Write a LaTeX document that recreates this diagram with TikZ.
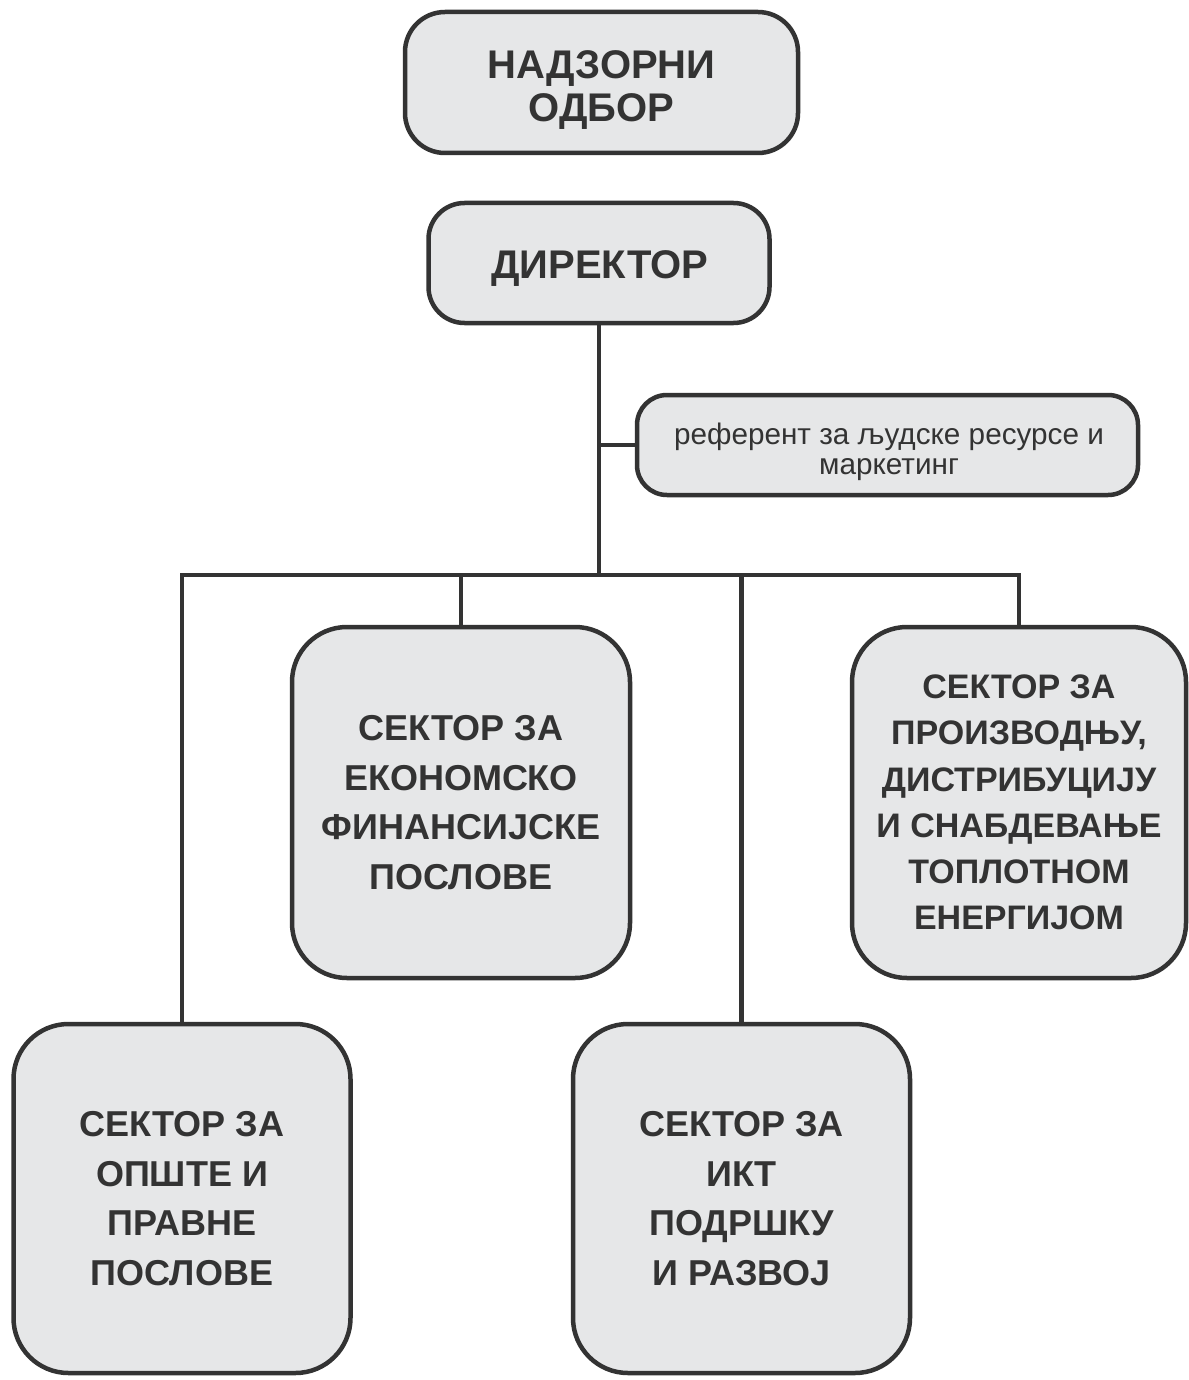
\documentclass[tikz,border=0pt]{standalone}
\usepackage{fontspec}
\setmainfont{Liberation Sans}
\usetikzlibrary{positioning}
\definecolor{boxfill}{HTML}{E6E7E8}
\definecolor{inkgray}{HTML}{333333}

\begin{document}
\begin{tikzpicture}[x=1pt,y=-1pt,line width=4.5pt,draw=inkgray,
    orgbox/.style={draw=inkgray,fill=boxfill,text=inkgray,align=center,
      rounded corners=#1,inner sep=0pt},
    boxtext/.style={text=inkgray,align=center,inner sep=0pt},
    topfont/.style={font=\fontsize{40}{43}\selectfont\bfseries},
    secfont/.style={font=\fontsize{36}{49.7}\selectfont\bfseries}]
  \useasboundingbox (0,0) rectangle (1188,1380);

  % Board and director, not joined to each other.
  \node[orgbox=40pt,minimum width=393pt,minimum height=141pt]
    (board) at (601.5,82.5) {};
  \node[boxtext,topfont] (boardtext) at (601.5,90) {НАДЗОРНИ\\ОДБОР};
  \node[orgbox=36pt,minimum width=341pt,minimum height=120pt]
    (director) at (599,263) {};
  \node[boxtext,topfont] (directortext) at (600,269) {ДИРЕКТОР};

  % Staff position hanging off the trunk.
  \node[orgbox=30pt,minimum width=501pt,minimum height=100pt]
    (referent) at (887.5,445) {};
  \node[boxtext,font=\fontsize{29.7}{30.5}\selectfont] (referenttext)
    at (889,452) {референт за људске ресурсе и\\маркетинг};

  % Sectors.
  \node[orgbox=55pt,secfont,minimum width=338pt,minimum height=351pt]
    (econ) at (461,802.5) {СЕКТОР ЗА\\ЕКОНОМСКО\\ФИНАНСИЈСКЕ\\ПОСЛОВЕ};
  \node[orgbox=55pt,font=\fontsize{34}{46.3}\selectfont\bfseries,
    minimum width=334pt,minimum height=351pt]
    (prod) at (1019,802.5)
    {СЕКТОР ЗА\\ПРОИЗВОДЊУ,\\ДИСТРИБУЦИЈУ\\И СНАБДЕВАЊЕ\\ТОПЛОТНОМ\\ЕНЕРГИЈОМ};
  \node[orgbox=55pt,secfont,minimum width=337pt,minimum height=349pt]
    (general) at (182,1198.5) {СЕКТОР ЗА\\ОПШТЕ И\\ПРАВНЕ\\ПОСЛОВЕ};
  \node[orgbox=55pt,secfont,minimum width=337pt,minimum height=349pt]
    (ict) at (741.5,1198.5) {СЕКТОР ЗА\\ИКТ\\ПОДРШКУ\\И РАЗВОЈ};

  % Trunk, side branch and bus.
  \coordinate (bus) at (599,575);
  \draw (director.south) -- (bus);
  \draw (referent.west -| bus) -- (referent.west);
  \draw (general.north) -- (general.north |- bus) -- (prod.north |- bus)
    -- (prod.north);
  \draw (econ.north) -- (econ.north |- bus);
  \draw (ict.north) -- (ict.north |- bus);
\end{tikzpicture}
\end{document}
